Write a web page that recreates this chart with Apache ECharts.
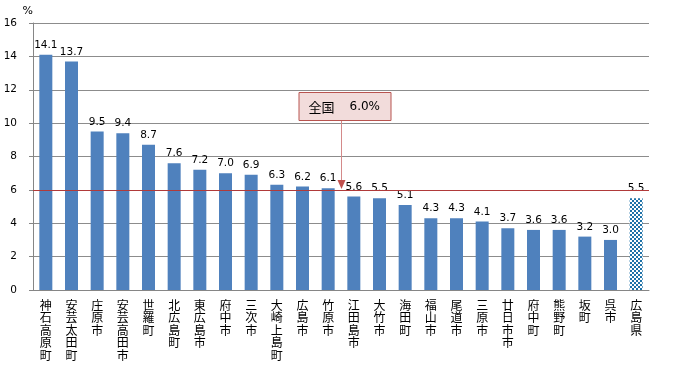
<!DOCTYPE html>
<html><head><meta charset="utf-8">
<script src="https://cdn.jsdelivr.net/npm/echarts@6/dist/echarts.min.js"></script>
<style>html,body{margin:0;padding:0;background:#fff}#c{width:680px;height:370px}</style>
</head><body><div id="c"></div>
<script>
const categories = ['神石高原町','安芸太田町','庄原市','安芸高田市','世羅町','北広島町','東広島市','府中市','三次市','大崎上島町','広島市','竹原市','江田島市','大竹市','海田町','福山市','尾道市','三原市','廿日市市','府中町','熊野町','坂町','呉市','広島県'];
const values = [14.1,13.7,9.5,9.4,8.7,7.6,7.2,7.0,6.9,6.3,6.2,6.1,5.6,5.5,5.1,4.3,4.3,4.1,3.7,3.6,3.6,3.2,3.0,5.5];
const nationalValue = 6.0;
const nationalLabel = '全国';
const yTicks = [0,2,4,6,8,10,12,14,16];

const pc = document.createElement('canvas');
pc.width = 4; pc.height = 4;
const g = pc.getContext('2d');
g.fillStyle = '#ffffff'; g.fillRect(0,0,4,4);
g.fillStyle = '#1f72a8'; g.fillRect(0,0,2,2); g.fillRect(2,2,2,2);

const numFont = 'DejaVu Sans';
const chart = echarts.init(document.getElementById('c'), null, {renderer:'canvas'});
const data = values.map((v,i)=> i === values.length-1
  ? {value:v, itemStyle:{color:{image:pc, repeat:'repeat'}}}
  : v);
chart.setOption({
  animation:false,
  grid:{left:33, right:31, top:23, bottom:80},
  xAxis:{type:'category', data:categories,
    axisLine:{lineStyle:{color:'#868686'}},
    axisTick:{inside:true, length:4, lineStyle:{color:'#868686'}},
    axisLabel:{interval:0, margin:9, color:'#000', fontSize:12, lineHeight:12.5,
      fontFamily:'Noto Sans CJK JP', verticalAlign:'top',
      formatter:s=>s.split('').join('\n')}},
  yAxis:{type:'value', min:0, max:16, interval:2,
    name:'%', nameGap:6, nameTextStyle:{color:'#000', fontSize:11, fontFamily:numFont, align:'right', padding:[0,0,0,0]},
    axisLine:{show:true, lineStyle:{color:'#868686'}},
    axisTick:{show:true, length:4, lineStyle:{color:'#868686'}},
    splitLine:{lineStyle:{color:'#8c8c8c'}},
    axisLabel:{color:'#000', fontSize:10.5, margin:16, fontFamily:numFont,
      formatter:v=> yTicks.includes(v) ? String(v) : ''}},
  series:[{type:'bar', data:data, barWidth:13,
    itemStyle:{color:'#4f81bd'},
    label:{show:true, position:'top', distance:4, color:'#000', fontSize:10.5, fontFamily:numFont,
      formatter:p=>p.value.toFixed(1)},
    markLine:{silent:true, symbol:['none','none'], label:{show:false},
      lineStyle:{color:'#b03a3a', width:1, type:'solid'},
      data:[{yAxis:nationalValue}]}
  }]
});

// annotation pointing at the national line between 竹原市 and 江田島市
const pA = chart.convertToPixel({xAxisIndex:0, yAxisIndex:0}, [11, nationalValue]);
const pB = chart.convertToPixel({xAxisIndex:0, yAxisIndex:0}, [12, nationalValue]);
const ax = Math.round((pA[0]+pB[0])/2)+0.5;
const ly = pA[1];
const boxTop = chart.convertToPixel({yAxisIndex:0}, 11.85);
const boxH = 28, boxW = 92;
const bx = ax - 43;
chart.setOption({graphic:[
  {type:'line', shape:{x1:ax, y1:boxTop+boxH, x2:ax, y2:ly-6}, style:{stroke:'#d48a8a', lineWidth:1}, z:100},
  {type:'polygon', shape:{points:[[ax-4,ly-10],[ax+4,ly-10],[ax,ly-1]]}, style:{fill:'#c0504d'}, z:100},
  {type:'rect', shape:{x:bx+0.5, y:Math.round(boxTop)+0.5, width:boxW, height:boxH},
    style:{fill:'#f2dcdb', stroke:'#b85450', lineWidth:1}, z:100},
  {type:'text', x:bx+10, y:Math.round(boxTop)+boxH/2+1, z:101,
    style:{text:nationalLabel, font:'13px "Noto Sans CJK JP"', fill:'#000', verticalAlign:'middle'}},
  {type:'text', x:bx+51, y:Math.round(boxTop)+boxH/2+1, z:101,
    style:{text:nationalValue.toFixed(1)+'%', font:'12px "DejaVu Sans"', fill:'#000', verticalAlign:'middle'}}
]});
</script></body></html>
